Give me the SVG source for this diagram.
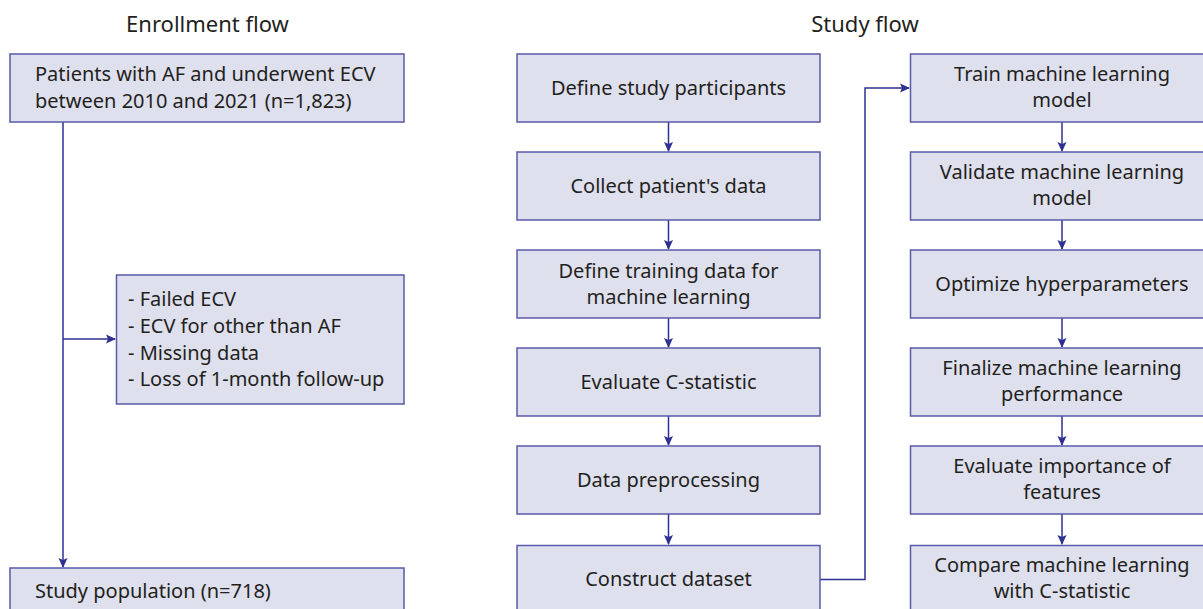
<svg xmlns="http://www.w3.org/2000/svg" width="1203" height="609" viewBox="0 0 1203 609">
<style>
text{font-family:"Noto Sans","Open Sans","DejaVu Sans",sans-serif;font-size:20px;fill:#231f20}
.t{text-anchor:middle}
.h{font-size:22px}
.box{fill:#dfe0ee;stroke:#5a5aaa;stroke-width:1.5}
.c{fill:none;stroke:#2e3192;stroke-width:1.5}
</style>
<defs>
<marker id="a" markerWidth="10" markerHeight="10" refX="9" refY="5" orient="auto" markerUnits="userSpaceOnUse">
<path d="M0,0.5 L10,5 L0,9.5 L2,5 Z" fill="#2e3192"/>
</marker>
</defs>
<text class="t h" x="207.5" y="32">Enrollment flow</text>
<text class="t h" x="865" y="32">Study flow</text>
<g id="connectors">
<path class="c" d="M63,122 V567" marker-end="url(#a)"/>
<path class="c" d="M63,339 H115" marker-end="url(#a)"/>
<path class="c" d="M668.5,122 V151" marker-end="url(#a)"/>
<path class="c" d="M668.5,220 V249" marker-end="url(#a)"/>
<path class="c" d="M668.5,318 V347" marker-end="url(#a)"/>
<path class="c" d="M668.5,416 V445" marker-end="url(#a)"/>
<path class="c" d="M668.5,514 V544" marker-end="url(#a)"/>
<path class="c" d="M820,579.5 H865 V88 H909" marker-end="url(#a)"/>
<path class="c" d="M1062,122 V151" marker-end="url(#a)"/>
<path class="c" d="M1062,220 V249" marker-end="url(#a)"/>
<path class="c" d="M1062,318 V347" marker-end="url(#a)"/>
<path class="c" d="M1062,416 V445" marker-end="url(#a)"/>
<path class="c" d="M1062,514 V544" marker-end="url(#a)"/>
</g>
<g id="n-patients">
<rect class="box" x="10" y="54" width="394" height="68"/>
<text x="35" y="81">Patients with AF and underwent ECV</text>
<text x="35" y="108">between 2010 and 2021 (n=1,823)</text>
</g>
<g id="n-excluded">
<rect class="box" x="116.5" y="275" width="287.5" height="129"/>
<text x="128" y="306">- Failed ECV</text>
<text x="128" y="333">- ECV for other than AF</text>
<text x="128" y="360">- Missing data</text>
<text x="128" y="386">- Loss of 1-month follow-up</text>
</g>
<g id="n-population">
<rect class="box" x="10" y="568" width="394" height="60"/>
<text x="35" y="598">Study population (n=718)</text>
</g>
<g id="n-define">
<rect class="box" x="517" y="54" width="303" height="68"/>
<text class="t" x="668.5" y="95">Define study participants</text>
</g>
<g id="n-collect">
<rect class="box" x="517" y="152" width="303" height="68"/>
<text class="t" x="668.5" y="193">Collect patient's data</text>
</g>
<g id="n-training">
<rect class="box" x="517" y="250" width="303" height="68"/>
<text class="t" x="668.5" y="278">Define training data for</text>
<text class="t" x="668.5" y="304">machine learning</text>
</g>
<g id="n-cstat">
<rect class="box" x="517" y="348" width="303" height="68"/>
<text class="t" x="668.5" y="389">Evaluate C-statistic</text>
</g>
<g id="n-preproc">
<rect class="box" x="517" y="446" width="303" height="68"/>
<text class="t" x="668.5" y="487">Data preprocessing</text>
</g>
<g id="n-construct">
<rect class="box" x="517" y="545.5" width="303" height="68"/>
<text class="t" x="668.5" y="586">Construct dataset</text>
</g>
<g id="n-train">
<rect class="box" x="910.5" y="54" width="305" height="68"/>
<text class="t" x="1062" y="81">Train machine learning</text>
<text class="t" x="1062" y="107">model</text>
</g>
<g id="n-validate">
<rect class="box" x="910.5" y="152" width="305" height="68"/>
<text class="t" x="1062" y="179">Validate machine learning</text>
<text class="t" x="1062" y="205">model</text>
</g>
<g id="n-hyper">
<rect class="box" x="910.5" y="250" width="305" height="68"/>
<text class="t" x="1062" y="291">Optimize hyperparameters</text>
</g>
<g id="n-finalize">
<rect class="box" x="910.5" y="348" width="305" height="68"/>
<text class="t" x="1062" y="375">Finalize machine learning</text>
<text class="t" x="1062" y="401">performance</text>
</g>
<g id="n-importance">
<rect class="box" x="910.5" y="446" width="305" height="68"/>
<text class="t" x="1062" y="473">Evaluate importance of</text>
<text class="t" x="1062" y="499">features</text>
</g>
<g id="n-compare">
<rect class="box" x="910.5" y="545.5" width="305" height="68"/>
<text class="t" x="1062" y="572">Compare machine learning</text>
<text class="t" x="1062" y="598">with C-statistic</text>
</g>
</svg>
